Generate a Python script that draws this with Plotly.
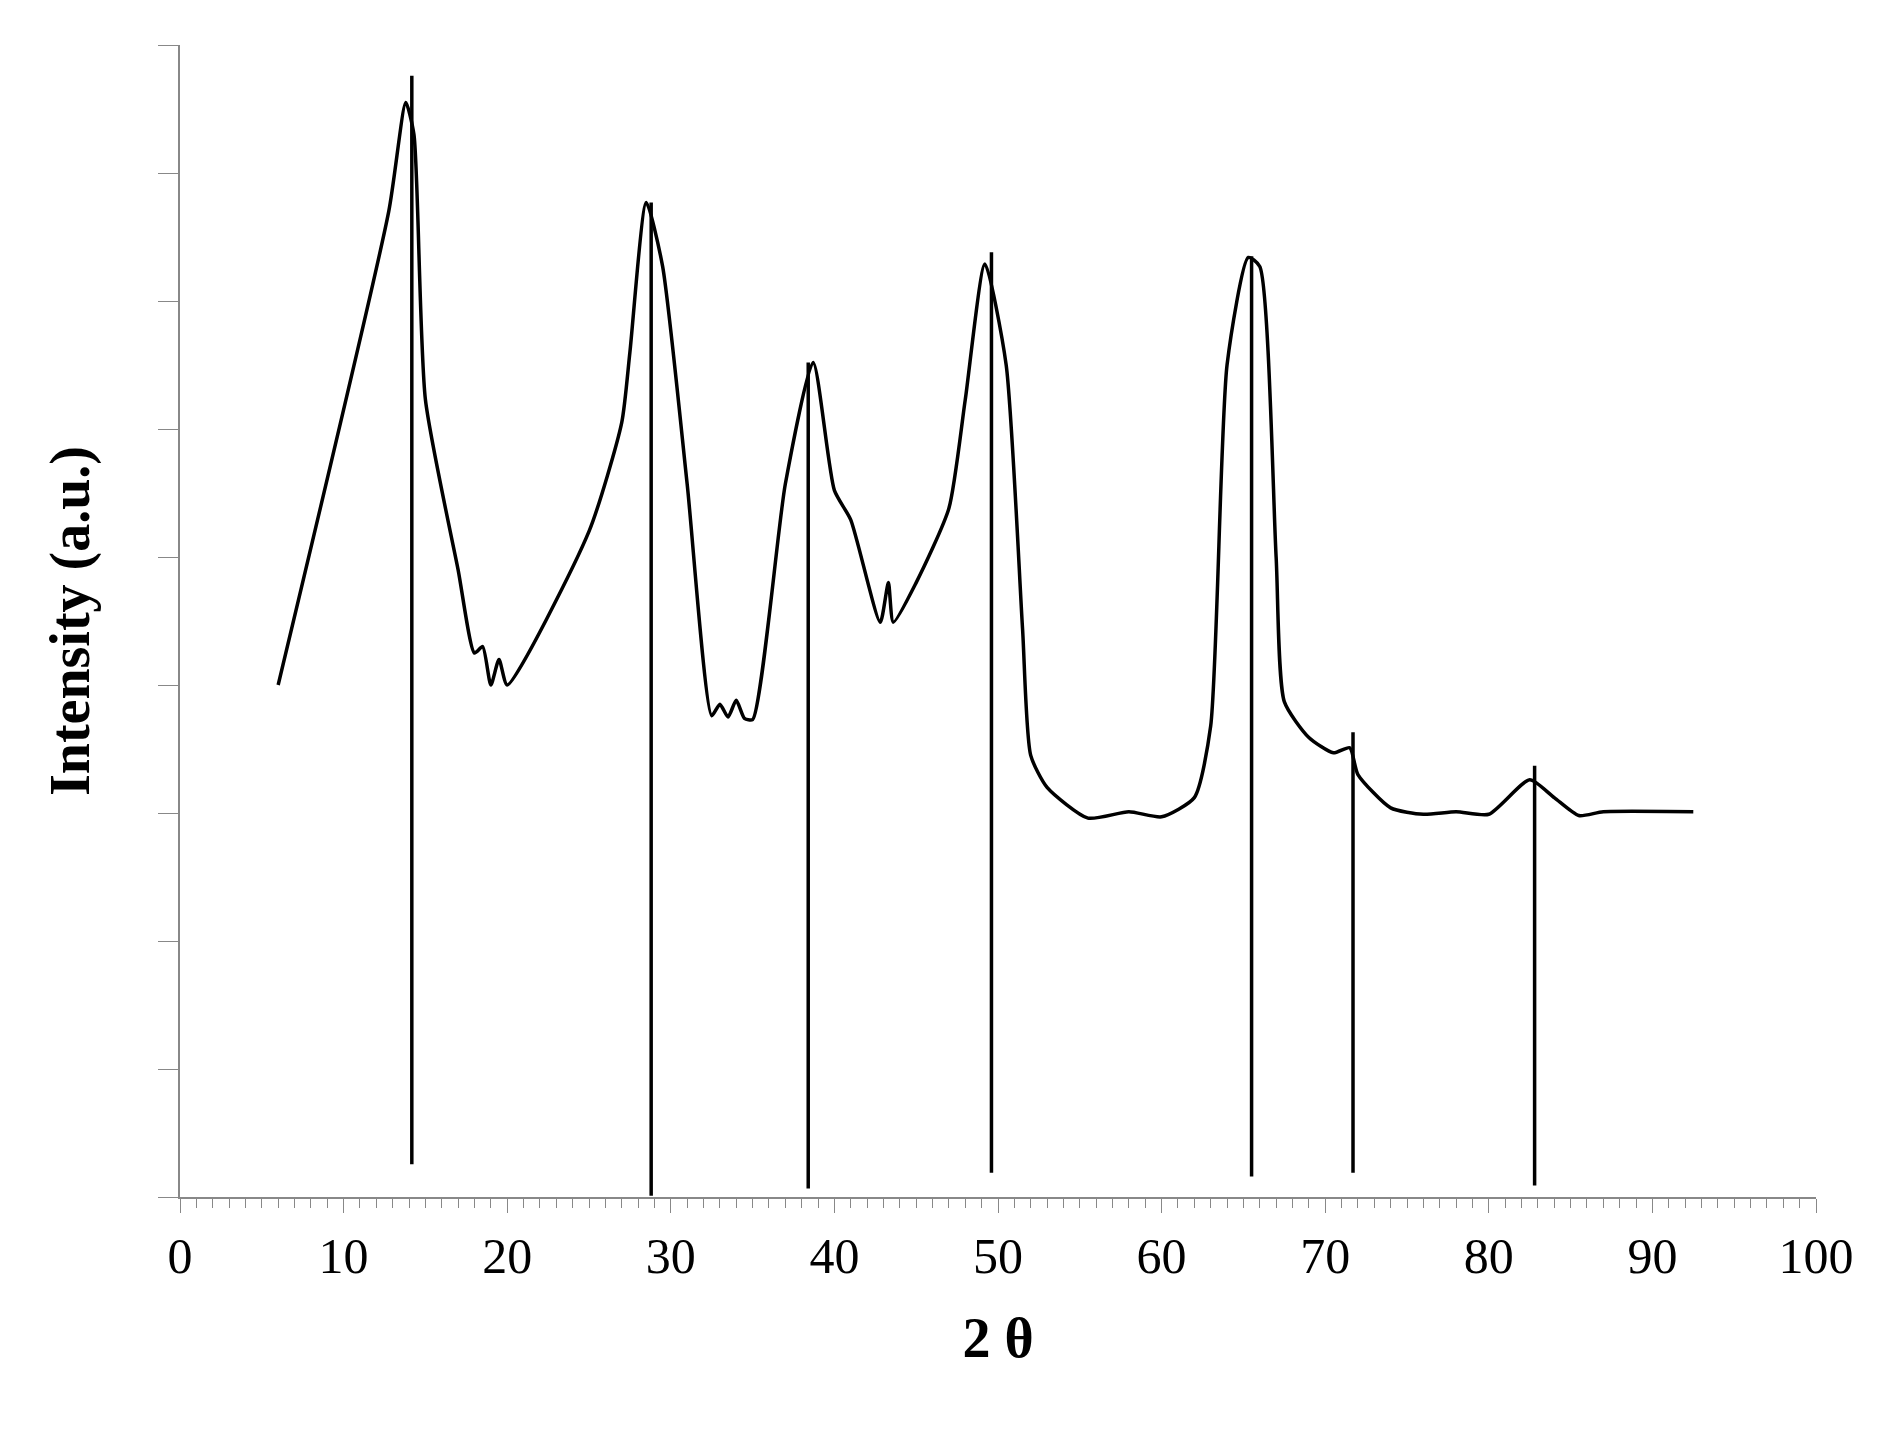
import plotly.graph_objects as go

two_theta = [6, 12.76, 13.8, 14.3, 15, 17, 18, 18.5, 19, 19.5, 20, 25, 27, 27.5, 28.5, 29.5, 31, 32.5, 33, 33.5, 34, 34.5, 35,
             37, 38.7, 40, 41, 42.8, 43.3, 43.6, 45, 47, 48, 49.2, 50.5, 51.5, 52, 53, 55.5, 58, 60, 62, 63, 64, 65.3, 66,
             67, 67.5, 69, 70.5, 71.5, 72, 74, 76, 78, 80, 82.5, 84, 85.5, 87, 92.5]
intensity = [4.0, 7.7, 8.55, 8.3, 6.23, 4.9, 4.25, 4.3, 4.0, 4.2, 4.0, 5.2, 6.05, 6.6, 7.77, 7.27, 5.57, 3.76, 3.85, 3.75, 3.88, 3.74, 3.73,
             5.57, 6.52, 5.52, 5.29, 4.49, 4.8, 4.49, 4.8, 5.38, 6.23, 7.29, 6.5, 4.44, 3.45, 3.2, 2.96, 3.01, 2.97, 3.12, 3.68, 6.5, 7.34, 7.27,
             5.0, 3.87, 3.59, 3.47, 3.51, 3.3, 3.04, 2.99, 3.01, 2.99, 3.26, 3.12, 2.98, 3.01, 3.01]

ref_pos = [14.17, 28.8, 38.4, 49.6, 65.5, 71.7, 82.8]
ref_top = [8.76, 7.77, 6.52, 7.38, 7.35, 3.63, 3.37]
ref_bot = [0.255, 0.01, 0.066, 0.19, 0.16, 0.19, 0.09]

fig = go.Figure()
fig.add_trace(go.Scatter(x=two_theta, y=intensity, mode="lines", line=dict(color="black", width=3.5, shape="spline", smoothing=0.6)))
for xp, yt, yb in zip(ref_pos, ref_top, ref_bot):
    fig.add_trace(go.Scatter(x=[xp, xp], y=[yb, yt], mode="lines", line=dict(color="black", width=3.5)))

fig.update_layout(
    width=1895, height=1437, showlegend=False,
    plot_bgcolor="white", paper_bgcolor="white",
    margin=dict(l=172, r=87, t=37, b=248),
    font=dict(family="Liberation Serif", color="black"),
    xaxis=dict(range=[0, 100], tickvals=list(range(0, 101, 10)), ticks="outside", ticklen=14, tickcolor="#888",
               showline=True, linecolor="#888", linewidth=2, showgrid=False, zeroline=False,
               tickfont=dict(size=50),
               minor=dict(dtick=1, ticks="outside", ticklen=9, tickcolor="#888"),
               title=dict(text="<b>2 θ</b>", font=dict(size=56), standoff=35)),
    yaxis=dict(range=[0, 9], dtick=1, ticks="outside", ticklen=20, tickcolor="#888", showticklabels=False,
               showline=True, linecolor="#888", linewidth=2, showgrid=False, zeroline=False,
               title=dict(text="<b>Intensity (a.u.)</b>", font=dict(size=56), standoff=50)),
)
fig.write_html("out.html")
